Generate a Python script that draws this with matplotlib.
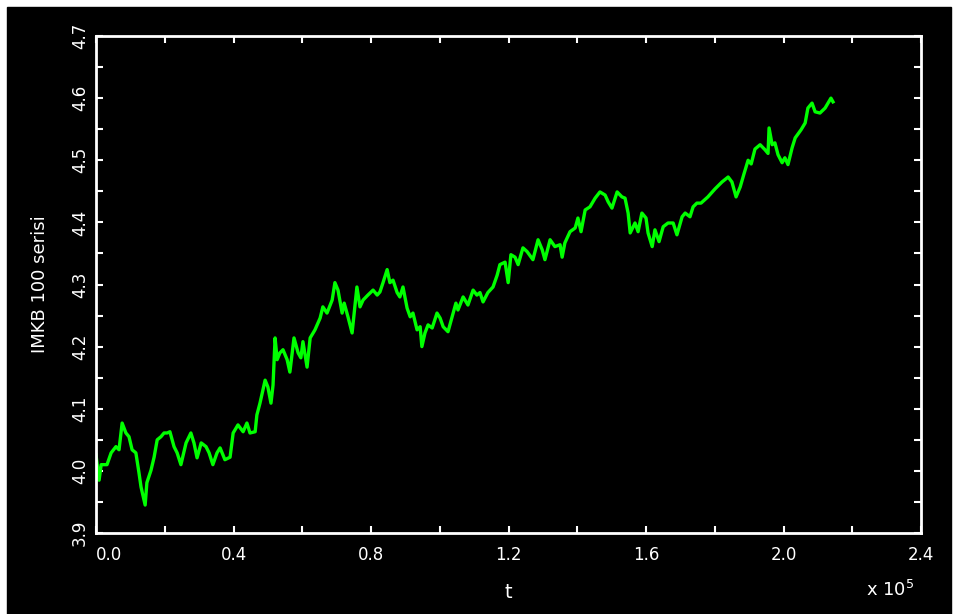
import matplotlib
matplotlib.use("Agg")
import matplotlib.pyplot as plt
from matplotlib.patches import Rectangle
from matplotlib.ticker import MultipleLocator

# t in units of 1e5, value of IMKB 100 series (log scale index)
t = [0.000, 0.009, 0.015, 0.032, 0.044, 0.058, 0.067, 0.076, 0.087, 0.096,
     0.105, 0.116, 0.125, 0.131, 0.143, 0.148, 0.160, 0.169, 0.178, 0.189,
     0.198, 0.207, 0.215, 0.227, 0.236, 0.247, 0.262, 0.276, 0.285, 0.294,
     0.306, 0.320, 0.329, 0.340, 0.352, 0.361, 0.375, 0.390, 0.399, 0.413,
     0.428, 0.439, 0.448, 0.463, 0.468, 0.477, 0.492, 0.500, 0.509, 0.515,
     0.521, 0.527, 0.535, 0.544, 0.556, 0.564, 0.576, 0.588, 0.596, 0.602,
     0.614, 0.623, 0.637, 0.652, 0.660, 0.672, 0.687, 0.695, 0.704, 0.716,
     0.722, 0.733, 0.745, 0.751, 0.759, 0.768, 0.777, 0.791, 0.806, 0.818,
     0.826, 0.835, 0.847, 0.855, 0.864, 0.876, 0.884, 0.893, 0.905, 0.914,
     0.922, 0.934, 0.943, 0.948, 0.957, 0.966, 0.978, 0.992, 1.001, 1.010,
     1.024, 1.036, 1.047, 1.053, 1.068, 1.082, 1.097, 1.108, 1.117, 1.126,
     1.140, 1.155, 1.167, 1.175, 1.190, 1.199, 1.207, 1.219, 1.228, 1.242,
     1.254, 1.271, 1.286, 1.298, 1.306, 1.321, 1.335, 1.350, 1.356, 1.364,
     1.379, 1.394, 1.402, 1.411, 1.423, 1.437, 1.452, 1.466, 1.481, 1.490,
     1.501, 1.516, 1.530, 1.539, 1.548, 1.554, 1.568, 1.577, 1.588, 1.600,
     1.606, 1.618, 1.626, 1.638, 1.650, 1.664, 1.679, 1.690, 1.705, 1.714,
     1.728, 1.737, 1.748, 1.760, 1.780, 1.801, 1.821, 1.839, 1.850, 1.862,
     1.874, 1.885, 1.897, 1.906, 1.917, 1.932, 1.946, 1.955, 1.958, 1.967,
     1.975, 1.984, 1.996, 2.004, 2.013, 2.025, 2.034, 2.051, 2.063, 2.071,
     2.083, 2.092, 2.106, 2.121, 2.138, 2.144]
imkb = [4.026, 3.985, 4.010, 4.010, 4.029, 4.039, 4.034, 4.077, 4.061, 4.055,
        4.034, 4.029, 3.997, 3.974, 3.945, 3.981, 4.001, 4.022, 4.050, 4.055,
        4.061, 4.061, 4.063, 4.039, 4.029, 4.010, 4.045, 4.061, 4.045, 4.021,
        4.045, 4.039, 4.029, 4.010, 4.029, 4.037, 4.018, 4.022, 4.061, 4.074,
        4.063, 4.077, 4.061, 4.063, 4.090, 4.109, 4.146, 4.135, 4.109, 4.138,
        4.214, 4.179, 4.190, 4.195, 4.179, 4.159, 4.214, 4.190, 4.182, 4.208,
        4.167, 4.214, 4.227, 4.246, 4.264, 4.254, 4.275, 4.303, 4.291, 4.254,
        4.270, 4.248, 4.222, 4.254, 4.296, 4.264, 4.275, 4.283, 4.291, 4.283,
        4.288, 4.303, 4.324, 4.303, 4.307, 4.287, 4.280, 4.296, 4.262, 4.248,
        4.254, 4.227, 4.232, 4.200, 4.222, 4.235, 4.230, 4.254, 4.246, 4.232,
        4.224, 4.248, 4.270, 4.259, 4.280, 4.267, 4.291, 4.283, 4.287, 4.272,
        4.287, 4.296, 4.315, 4.332, 4.336, 4.303, 4.348, 4.344, 4.332, 4.359,
        4.353, 4.340, 4.372, 4.356, 4.340, 4.372, 4.361, 4.364, 4.344, 4.367,
        4.385, 4.391, 4.407, 4.385, 4.420, 4.425, 4.439, 4.449, 4.444, 4.433,
        4.423, 4.449, 4.441, 4.439, 4.415, 4.383, 4.399, 4.385, 4.415, 4.407,
        4.383, 4.361, 4.388, 4.369, 4.393, 4.399, 4.399, 4.380, 4.409, 4.415,
        4.409, 4.425, 4.431, 4.431, 4.441, 4.454, 4.465, 4.473, 4.465, 4.441,
        4.457, 4.478, 4.500, 4.494, 4.518, 4.525, 4.517, 4.511, 4.552, 4.525,
        4.528, 4.509, 4.496, 4.504, 4.493, 4.520, 4.536, 4.549, 4.560, 4.584,
        4.592, 4.578, 4.576, 4.584, 4.600, 4.594]

xticks = [0.0, 0.4, 0.8, 1.2, 1.6, 2.0, 2.4]
xticklabels = ["0.0", "0.4", "0.8", "1.2", "1.6", "2.0", "2.4"]
yticks = [3.9, 4.0, 4.1, 4.2, 4.3, 4.4, 4.5, 4.6, 4.7]
yticklabels = ["3.9", "4.0", "4.1", "4.2", "4.3", "4.4", "4.5", "4.6", "4.7"]

W, H = 958, 614
fig = plt.figure(figsize=(W / 100, H / 100), dpi=100, facecolor="white")
# black plotting window inside a thin white frame (top, left, right)
bg = Rectangle((7 / W, 0), 1 - 14 / W, 1 - 7 / H, transform=fig.transFigure,
               color="black", zorder=-10)
fig.add_artist(bg)

ax = fig.add_axes([96 / W, (H - 533) / H, 825 / W, 497 / H])
ax.set_facecolor("black")
ax.plot(t, imkb, color="#00ff00", linewidth=2.4)

ax.set_xlim(0, 2.4)
ax.set_ylim(3.9, 4.7)
ax.set_xticks(xticks)
ax.set_xticklabels(xticklabels)
ax.set_yticks(yticks)
ax.set_yticklabels(yticklabels, rotation=90, va="center")
ax.xaxis.set_minor_locator(MultipleLocator(0.2))
ax.yaxis.set_minor_locator(MultipleLocator(0.05))
ax.tick_params(which="both", direction="in", colors="white", length=5, width=1.5,
               top=True, right=True, labelsize=12)
ax.tick_params(axis="x", pad=9)
ax.tick_params(axis="y", pad=5)
ax.get_xticklabels()[0].set_ha("left")
for s in ax.spines.values():
    s.set_color("white")
    s.set_linewidth(2)

ax.set_ylabel("IMKB 100 serisi", color="white", fontsize=13, labelpad=16)
fig.text(508 / W, 1 - 592 / H, "t", color="white", fontsize=14,
         ha="center", va="center")
fig.text(890 / W, 1 - 590 / H, r"x 10$^{5}$", color="white", fontsize=13,
         ha="center", va="center")

fig.savefig("out.png", dpi=100, facecolor=fig.get_facecolor())
